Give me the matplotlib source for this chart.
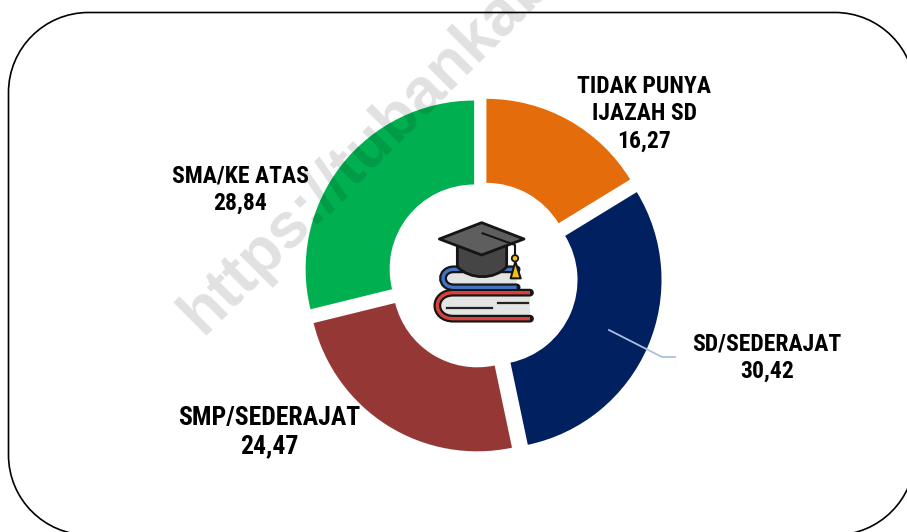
import matplotlib
matplotlib.use("Agg")
import matplotlib.pyplot as plt
from matplotlib.patches import Polygon, PathPatch, Circle
from matplotlib.path import Path

# data
categories = ["TIDAK PUNYA\nIJAZAH SD", "SD/SEDERAJAT", "SMP/SEDERAJAT", "SMA/KE ATAS"]
values = [16.27, 30.42, 24.47, 28.84]
value_labels = ["16,27", "30,42", "24,47", "28,84"]
colors = ["#E46C0A", "#002060", "#953735", "#00B050"]

W, H = 907, 532
LABEL_FONT = ["Roboto Condensed", "Liberation Sans", "DejaVu Sans"]
MARK_FONT = ["Liberation Sans", "DejaVu Sans"]

fig = plt.figure(figsize=(W / 100, H / 100), dpi=100)
ax = fig.add_axes([0, 0, 1, 1])

ax.pie(values, colors=colors, startangle=90, counterclock=False,
       center=(482, H - 275.2), radius=168.5, explode=[9, 12, 9, 10],
       wedgeprops=dict(width=84, linewidth=0, zorder=2))
ax.set_xlim(0, W)
ax.set_ylim(0, H)
ax.axis("off")


def round_rect(x0, y0, x1, y1, r):
    k = r * 0.5523
    verts = [(x0 + r, y0), (x1 - r, y0), (x1 - r + k, y0), (x1, y0 + r - k), (x1, y0 + r),
             (x1, y1 - r), (x1, y1 - r + k), (x1 - r + k, y1), (x1 - r, y1),
             (x0 + r, y1), (x0 + r - k, y1), (x0, y1 - r + k), (x0, y1 - r),
             (x0, y0 + r), (x0, y0 + r - k), (x0 + r - k, y0), (x0 + r, y0)]
    codes = [Path.MOVETO, Path.LINETO, Path.CURVE4, Path.CURVE4, Path.CURVE4,
             Path.LINETO, Path.CURVE4, Path.CURVE4, Path.CURVE4,
             Path.LINETO, Path.CURVE4, Path.CURVE4, Path.CURVE4,
             Path.LINETO, Path.CURVE4, Path.CURVE4, Path.CURVE4]
    return Path(verts, codes)


# rounded frame, white fill so agg does not clip the curve control points
ax.add_patch(PathPatch(round_rect(8.5, H - 535, 915, H - 12.5, 80), fc="white", ec="black", lw=1.2, zorder=1))

# leader line of the SD label
ax.plot([609, 662, 675], [H - 330, H - 357, H - 357], color="#A9C0E2", lw=1.3, zorder=3)

# watermark
ax.text(202, H - 336, "https://tubankab.bps.go.id", rotation=45, rotation_mode="anchor",
        ha="left", va="baseline", fontsize=46, fontweight="bold",
        family=MARK_FONT, color="black", alpha=0.12, zorder=4)

# labels
label_pos = [(644, 114), (767, 358), (269, 432), (240, 190)]
label_size = [17, 17, 18.5, 17]
for cat, val, (x, y), size in zip(categories, value_labels, label_pos, label_size):
    ax.text(x, H - y, cat + "\n" + val, ha="center", va="center", fontsize=size,
            fontweight="bold", family=LABEL_FONT, color="black", linespacing=1.24, zorder=5)


# graduation icon, coordinates follow the 3x crop of the centre
def ic(x, y):
    return (400 + x / 3, H - (200 + y / 3))


def poly(pts, fc, z, lw=2.0):
    ax.add_patch(Polygon([ic(*p) for p in pts], closed=True, fc=fc, ec="#151515",
                         lw=lw, joinstyle="round", zorder=z))


def book(x0, x1, y0, y1, bulge, color):
    # spine as a curved stroke, pages inside
    verts = [ic(x1, y0), ic(x0 + bulge, y0), ic(x0 - bulge, y0), ic(x0 - bulge, y1),
             ic(x0 + bulge, y1), ic(x1, y1)]
    codes = [Path.MOVETO, Path.LINETO, Path.CURVE4, Path.CURVE4, Path.CURVE4, Path.LINETO]
    ax.add_patch(PathPatch(Path(verts, codes), fc="#E3E5E4", ec="#151515", lw=5.6,
                           capstyle="round", zorder=6))
    ax.add_patch(PathPatch(Path(verts, codes), fc="none", ec=color, lw=2.4,
                           capstyle="butt", zorder=7))


book(140, 350, 208, 262, 22, "#4472C4")
book(128, 390, 278, 356, 32, "#D9403A")
ax.plot(*zip(ic(142, 323), ic(275, 323)), color="#222222", lw=1.6, zorder=8)
ax.plot(*zip(ic(295, 308), ic(385, 308)), color="#222222", lw=1.6, zorder=8)

# cap
verts = [ic(172, 130), ic(172, 200), ic(210, 240), ic(285, 240), ic(320, 200), ic(320, 130), ic(172, 130)]
codes = [Path.MOVETO, Path.LINETO, Path.CURVE4, Path.CURVE4, Path.CURVE4, Path.LINETO, Path.CLOSEPOLY]
ax.add_patch(PathPatch(Path(verts, codes), fc="#454545", ec="#151515", lw=2.0, zorder=9))
poly([(245, 68), (372, 117), (245, 165), (118, 117)], "#5E5E5E", 10)
ax.plot(*zip(ic(248, 100), ic(345, 135), ic(345, 170)), color="#151515", lw=1.5, zorder=11)
poly([(346, 185), (362, 235), (332, 235)], "#F2C40F", 11, lw=1.5)
ax.add_patch(Circle(ic(345, 175), 3.2, fc="#F2C40F", ec="#151515", lw=1.3, zorder=12))

fig.savefig("out.png", dpi=100, facecolor="white")
